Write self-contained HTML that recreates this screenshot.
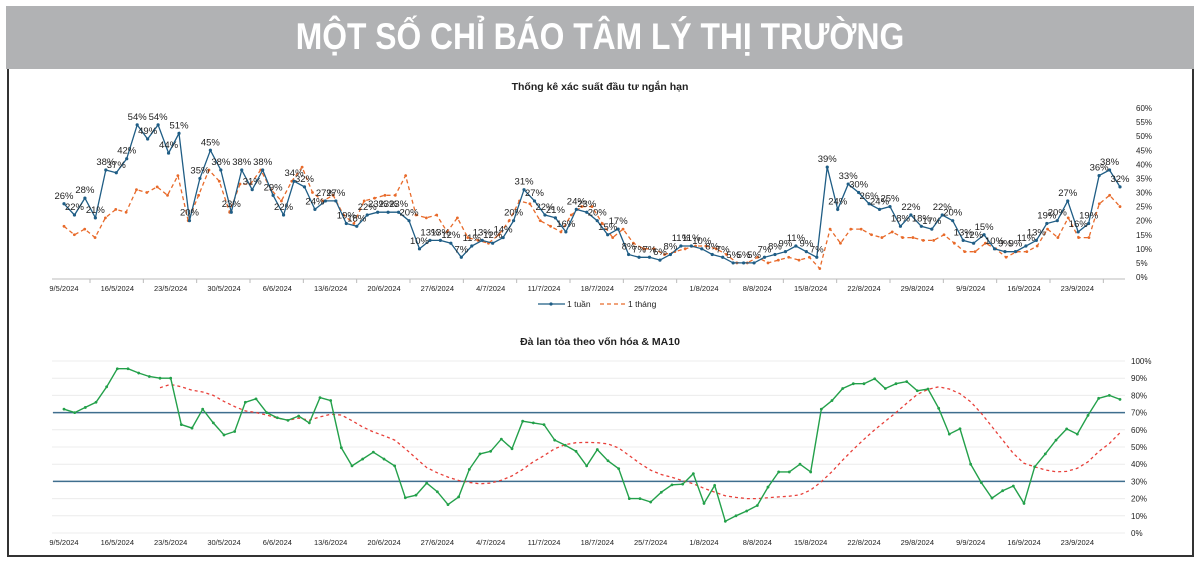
<!DOCTYPE html>
<html><head><meta charset="utf-8"><style>
body{margin:0;width:1200px;height:567px;background:#fff;overflow:hidden;font-family:"Liberation Sans","Noto Sans CJK SC",sans-serif}
#hdr{position:absolute;left:6px;top:6px;width:1188px;height:63px;background:#b1b2b4}
#hdr span{position:absolute;left:0;right:0;top:10px;text-align:center;color:#fff;font-weight:bold;font-size:37px;letter-spacing:0px;transform:scaleX(0.86)}
#frame{position:absolute;left:7px;top:69px;width:1183px;height:486px;border:2px solid #333;border-top:none}
svg{position:absolute;left:0;top:0}
</style></head><body>
<div id="hdr"><span>MỘT SỐ CHỈ BÁO TÂM LÝ THỊ TRƯỜNG</span></div>
<div id="frame"></div>
<svg id="c" width="1200" height="567"></svg>
<script>
const dateLabels=["9/5/2024","16/5/2024","23/5/2024","30/5/2024","6/6/2024","13/6/2024","20/6/2024","27/6/2024","4/7/2024","11/7/2024","18/7/2024","25/7/2024","1/8/2024","8/8/2024","15/8/2024","22/8/2024","29/8/2024","9/9/2024","16/9/2024","23/9/2024"];
const week=[26,22,28,21,38,37,42,54,49,54,44,51,20,35,45,38,23,38,31,38,29,22,34,32,24,27,27,19,18,22,23,23,23,20,10,13,13,12,7,11,13,12,14,20,31,27,22,21,16,24,23,20,15,17,8,7,7,6,8,11,11,10,8,7,5,5,5,7,8,9,11,9,7,39,24,33,30,26,24,25,18,22,18,17,22,20,13,12,15,10,9,9,11,13,19,20,27,16,19,36,38,32];
const month=[18,15,17,14,21,24,23,31,30,32,29,36,20,29,38,34,23,33,33,38,31,27,34,39,30,27,29,22,19,27,28,29,29,36,22,21,22,16,21,14,13,12,15,20,27,26,20,18,16,22,25,25,19,14,17,12,10,10,8,9,10,11,11,10,8,5,5,7,5,6,7,6,7,3,17,12,17,17,15,14,16,14,14,13,13,15,12,9,9,12,10,7,9,9,11,17,14,21,14,14,26,29,25];
const breadth=[72,70,73,76,85,95.5,95.5,93,91,90,90,63,61,72,64,57,59,76,78,70,67,65.5,68,64,78.7,77,49.6,39,43,47,43,39,20.5,22,29,24,16.5,21,37,46,47.5,54.6,49,65,64,63,54,51,47.5,39,48.5,42,37.4,20,20,18,23.7,28,28.4,34.5,17.2,27.7,6.8,10,12.8,16,26.7,35.5,35.5,40,35.5,72,77,84,86.8,86.8,89.7,84,86.8,88,82.7,83.7,72.5,57.5,60.6,40,29.3,20.3,24.6,27.3,17.2,38.5,46,54,60.5,57.5,68.4,78.3,80,77.7];
const ma10=[null,null,null,null,null,null,null,null,null,84.5,86.4,85,83,82,80,76.5,73.5,71,70,68.6,66.8,65.6,66.8,65.6,67.5,69,68.6,65.3,61.6,58.8,56.5,54,49,43.5,38,35,32.5,30.5,29.4,28.6,29,30.7,33.2,37,41.4,45,49,51.4,52.5,52.7,52.5,51.8,49.4,45,40.4,36.5,34,32.4,30.4,28.6,26,23.7,21.6,20.7,20,20,20.5,21,21.4,22.2,25,29.8,35.7,42.4,48.6,54.5,60,65,70,75.4,80.6,83.5,85,83.7,81,76.3,69.6,61.8,54,46.3,40.5,38.5,36.6,35.6,35.8,37.6,41.4,47.3,52,58.3];
const topTicks=[0,5,10,15,20,25,30,35,40,45,50,55,60];
const botTicks=[0,10,20,30,40,50,60,70,80,90,100];
const bands=[70,30];

const S=document.getElementById('c');const NS='http://www.w3.org/2000/svg';
function mk(t,a,p){const e=document.createElementNS(NS,t);for(const k in a)e.setAttribute(k,a[k]);(p||S).appendChild(e);return e;}
const X0=64,X1=1120;
const xi=(i,n)=>X0+i*(X1-X0)/(n-1);
const xl=i=>X0+i*5*(X1-X0)/99;
const yT=v=>277-v*(169/60);
const yB=v=>533-v*1.72;

function txt(x,y,s,opt,name){const t=mk('text',Object.assign({x:x,y:y,'font-size':8,fill:'#222','font-family':'Liberation Sans, sans-serif'},opt));t.textContent=s;return t;}

txt(600,90,'Thống kê xác suất đầu tư ngắn hạn',{'font-size':10.5,'font-weight':'bold','text-anchor':'middle'},'top-chart-title');
topTicks.forEach(v=>{txt(1136,yT(v)+3,v+'%',{'font-size':8},'top-y-tick');});
let ax=mk('line',{x1:52,x2:1125,y1:279,y2:279,stroke:'#bbb'});
dateLabels.forEach((d,k)=>{const x=xl(k);
const tk=mk('line',{x1:x+26,x2:x+26,y1:279,y2:283,stroke:'#bbb'});
txt(x,291,d,{'font-size':7.5,'text-anchor':'middle'},'top-x-label');});
function series(data,n,yf,color,dash,name,w,rr){
 let d='';data.forEach((v,i)=>{if(v==null)return;d+=(d?'L':'M')+xi(i,n).toFixed(1)+' '+yf(v).toFixed(1);});
 const p=mk('path',{d:d,fill:'none',stroke:color,'stroke-width':w,'stroke-dasharray':dash||'none'});
 if(rr)data.forEach((v,i)=>{if(v==null)return;const c=mk('circle',{cx:xi(i,n),cy:yf(v),r:rr,fill:color});});
}
series(month,month.length,yT,'#e86a2a','4 3','series-1-thang',1.3,1.4);
series(week,week.length,yT,'#1f5d85',null,'series-1-tuan',1.3,1.6);
week.forEach((v,i)=>{txt(xi(i,week.length),yT(v)-5,v+'%',{'font-size':9.5,'text-anchor':'middle'},'data-label-1-tuan');});
let l1=mk('line',{x1:538,x2:565,y1:304,y2:304,stroke:'#1f5d85','stroke-width':1.3});
let c1=mk('circle',{cx:551,cy:304,r:1.6,fill:'#1f5d85'});
txt(567,307,'1 tuần',{'font-size':8.5},'legend-1-tuan');
let l2=mk('line',{x1:600,x2:626,y1:304,y2:304,stroke:'#e86a2a','stroke-width':1.3,'stroke-dasharray':'4 3'});
txt(628,307,'1 tháng',{'font-size':8.5},'legend-1-thang');

txt(600,345,'Đà lan tỏa theo vốn hóa & MA10',{'font-size':10.5,'font-weight':'bold','text-anchor':'middle'},'bottom-chart-title');
botTicks.forEach(v=>{const g=mk('line',{x1:52,x2:1125,y1:yB(v),y2:yB(v),stroke:'#ececec'});
txt(1131,yB(v)+3,v+'%',{'font-size':8},'bottom-y-tick');});
bands.forEach(v=>{const b=mk('line',{x1:53,x2:1125,y1:yB(v),y2:yB(v),stroke:'#3f6e8e','stroke-width':1.5});});
dateLabels.forEach((d,k)=>{const x=xl(k);txt(x,545,d,{'font-size':7.5,'text-anchor':'middle'},'bottom-x-label');});
series(ma10,ma10.length,yB,'#e8403a','3 3','series-ma10',1.3,0);
series(breadth,breadth.length,yB,'#23a04a',null,'series-breadth',1.4,1.4);
</script>
</body></html>
